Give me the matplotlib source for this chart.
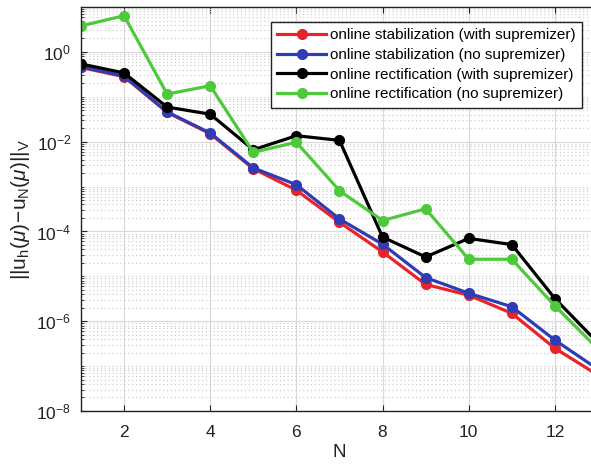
from __future__ import annotations

# Figura de error de la base reducida frente a N (escala logarítmica).
import matplotlib

matplotlib.use("Agg")
import matplotlib.pyplot as plt
from matplotlib.ticker import FixedLocator, LogLocator, LogFormatterSciNotation, NullFormatter

# Datos.
n_values = [1, 2, 3, 4, 5, 6, 7, 8, 9, 10, 11, 12, 13]
stab_with_sup = [0.45, 0.28, 0.045, 0.015, 0.0025, 8.3e-4, 1.6e-4, 3.5e-5, 6.6e-6, 3.8e-6, 1.5e-6, 2.5e-7, 6.3e-8]
stab_no_sup = [0.47, 0.29, 0.046, 0.0156, 0.0026, 1.1e-3, 1.9e-4, 5.2e-5, 9.4e-6, 4.2e-6, 2.1e-6, 3.8e-7, 8.5e-8]
rect_with_sup = [0.54, 0.34, 0.059, 0.041, 0.0066, 0.0136, 0.0107, 7.5e-5, 2.7e-5, 7.0e-5, 5.1e-5, 3.2e-6, 3.3e-7]
rect_no_sup = [3.8, 6.4, 0.115, 0.176, 0.0058, 0.0097, 8.1e-4, 1.75e-4, 3.2e-4, 2.4e-5, 2.4e-5, 2.2e-6, 2.4e-7]

series_labels = [
    "online stabilization (with supremizer)",
    "online stabilization (no supremizer)",
    "online rectification (with supremizer)",
    "online rectification (no supremizer)",
]
series_colors = ["#e8242a", "#2f3db4", "#000000", "#4ec93c"]
major_y = [1e-8, 1e-6, 1e-4, 1e-2, 1e0]
major_x = [2, 4, 6, 8, 10, 12]

plt.rcParams["font.family"] = ["Liberation Sans", "DejaVu Sans"]
plt.rcParams["mathtext.fontset"] = "custom"
plt.rcParams["mathtext.rm"] = "Liberation Sans"
plt.rcParams["mathtext.it"] = "Liberation Sans:italic"

fig = plt.figure(figsize=(5.91, 4.68), dpi=100)
# Se colocan los ejes como en el original (el borde derecho queda recortado).
ax = fig.add_axes([0.137, 0.1218, 0.8748, 0.8632])

for values, label, color in zip(
    [stab_with_sup, stab_no_sup, rect_with_sup, rect_no_sup], series_labels, series_colors
):
    ax.plot(n_values, values, color=color, lw=2.3, marker="o", ms=7, label=label)

ax.set_yscale("log")
ax.set_xlim(1, 13)
ax.set_ylim(1e-8, 1e1)
ax.xaxis.set_major_locator(FixedLocator(major_x))
ax.yaxis.set_major_locator(FixedLocator(major_y))
ax.yaxis.set_major_formatter(LogFormatterSciNotation())
ax.yaxis.set_minor_locator(LogLocator(base=10, subs=range(1, 10), numticks=30))
ax.yaxis.set_minor_formatter(NullFormatter())

# Rejilla principal continua y secundaria punteada al estilo MATLAB.
ax.grid(which="major", color="#d9d9d9", lw=0.8, ls="-")
ax.grid(which="minor", axis="y", color="#c8c8c8", lw=0.8, ls=(0, (1, 2.5)))
ax.set_axisbelow(True)

ax.tick_params(which="both", direction="in", top=True, right=False, labelsize=12.5, colors="#222222")
ax.tick_params(which="major", length=4)
ax.tick_params(which="minor", length=2.5)
ax.tick_params(axis="x", which="major", pad=10)
ax.tick_params(axis="y", which="major", pad=7)
for spine in ax.spines.values():
    spine.set_color("#222222")
    spine.set_linewidth(1.0)

ax.set_xlabel("N", fontsize=13.5, color="#222222", labelpad=3)
ax.set_ylabel(r"$\mathrm{||u_h(}\mu\mathrm{)\!-\!u_N(}\mu\mathrm{)||_V}$", fontsize=15, color="#222222", labelpad=3)

legend = ax.legend(
    loc="upper left",
    bbox_to_anchor=(0.368, 0.963),
    fontsize=11.0,
    frameon=True,
    fancybox=False,
    edgecolor="#222222",
    framealpha=1.0,
    handlelength=3.2,
    handletextpad=0.25,
    borderpad=0.4,
    labelspacing=0.38,
    borderaxespad=0.0,
)
legend.get_frame().set_linewidth(1.0)

fig.savefig("out.png", dpi=100)
plt.close(fig)
